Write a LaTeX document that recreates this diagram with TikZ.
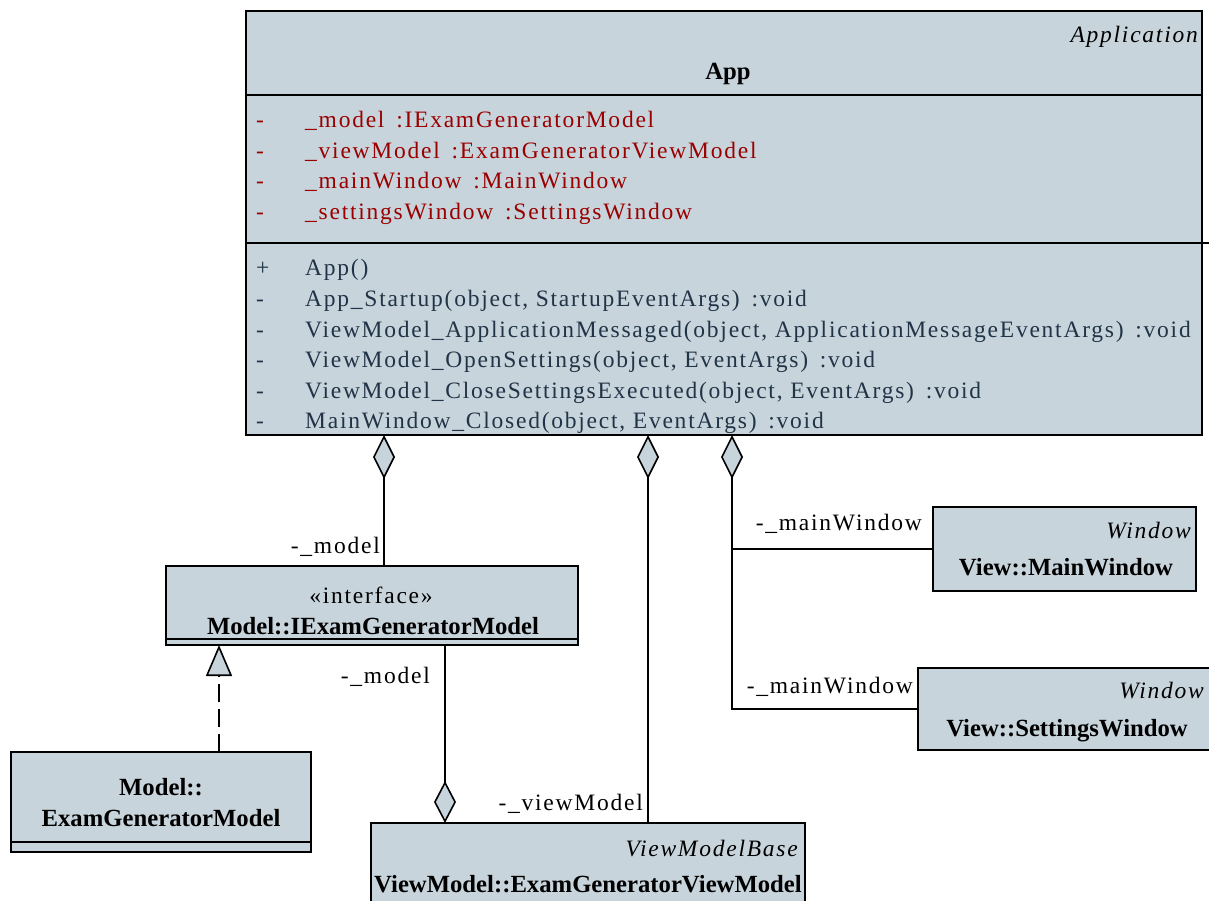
\documentclass[tikz,border=0pt]{standalone}
\usepackage{fontspec}
\setmainfont{Liberation Serif}
\newfontfamily\umlfont{Liberation Serif}[LetterSpace=7.5]
\usetikzlibrary{arrows.meta}
\definecolor{classfill}{RGB}{200,212,220}
\definecolor{attrred}{RGB}{153,0,0}
\definecolor{opblue}{RGB}{33,52,71}
\def\visib#1{\makebox[49pt][l]{#1}}
\tikzset{
	classbox/.style={draw=black, fill=classfill, line width=1.8pt, inner sep=0pt, outer sep=0pt, anchor=north west},
	member/.style={anchor=base west, inner sep=0pt, font=\umlfont\fontsize{23.5}{28}\selectfont},
	attr/.style={member, text=attrred},
	oper/.style={member, text=opblue},
	classname/.style={anchor=base, inner sep=0pt, font=\bfseries\fontsize{24.7}{28}\selectfont},
	basename/.style={anchor=base east, inner sep=0pt, font=\umlfont\itshape\fontsize{23.5}{28}\selectfont},
	stereo/.style={anchor=base, inner sep=0pt, font=\umlfont\fontsize{23.5}{28}\selectfont},
	role/.style={anchor=base east, inner sep=0pt, font=\umlfont\fontsize{23.5}{28}\selectfont},
	link/.style={line width=1.6pt},
	aggr/.style={link, {Diamond[fill=classfill, length=44pt, width=22pt, line width=1.6pt]}-},
	aggrend/.style={link, -{Diamond[fill=classfill, length=42pt, width=22pt, line width=1.6pt]}},
	realize/.style={link, dash pattern=on 18pt off 7pt, -{Triangle[fill=classfill, length=31pt, width=26pt, line width=1.6pt]}}
}

\begin{document}
\begin{tikzpicture}[x=1pt, y=-1pt]
		%%%%% START %%%%%
		\clip (0,0) rectangle (1209,901);
		
		% App
		\node[classbox, minimum width=956pt, minimum height=424pt] (app) at (246,11) {};
		\draw[line width=1.8pt] (246,95) -- (1202,95);
		\draw[line width=1.8pt] (246,243) -- (1209,243);
		\node[basename] (appbase) at (1198,43) {Application};
		\node[classname] (appname) at (728,80) {App};
		
		\node[attr] (a1) at (256,128) {\visib{-}\_model\enspace:IExamGeneratorModel};
		\node[attr] (a2) at (256,158.5) {\visib{-}\_viewModel\enspace:ExamGeneratorViewModel};
		\node[attr] (a3) at (256,189) {\visib{-}\_mainWindow\enspace:MainWindow};
		\node[attr] (a4) at (256,219.5) {\visib{-}\_settingsWindow\enspace:SettingsWindow};
		
		\node[oper] (m1) at (256,276) {\visib{+}App()};
		\node[oper] (m2) at (256,306.5) {\visib{-}App\_Startup(object, StartupEventArgs)\enspace:void};
		\node[oper] (m3) at (256,337) {\visib{-}ViewModel\_ApplicationMessaged(object, ApplicationMessageEventArgs)\enspace:void};
		\node[oper] (m4) at (256,367.5) {\visib{-}ViewModel\_OpenSettings(object, EventArgs)\enspace:void};
		\node[oper] (m5) at (256,398) {\visib{-}ViewModel\_CloseSettingsExecuted(object, EventArgs)\enspace:void};
		\node[oper] (m6) at (256,428.5) {\visib{-}MainWindow\_Closed(object, EventArgs)\enspace:void};
		
		% Model
		\node[classbox, minimum width=412pt, minimum height=79pt] (imodel) at (166,566) {};
		\draw[line width=1.8pt] (166,639) -- (578,639);
		\node[stereo] (istereo) at (371,603) {«interface»};
		\node[classname] (iname) at (373,634) {Model::IExamGeneratorModel};
		
		\node[classbox, minimum width=300pt, minimum height=100pt] (genmodel) at (11,752) {};
		\draw[line width=1.8pt] (11,842) -- (311,842);
		\node[classname] (gname1) at (161,795) {Model::};
		\node[classname] (gname2) at (161,826) {ExamGeneratorModel};
		
		% ViewModel
		\node[classbox, minimum width=434pt, minimum height=120pt] (viewmodel) at (371,823) {};
		\node[basename] (vbase) at (798,856) {ViewModelBase};
		\node[classname] (vname) at (588,892) {ViewModel::ExamGeneratorViewModel};
		
		% View
		\node[classbox, minimum width=263pt, minimum height=84pt] (mainwin) at (933,507) {};
		\node[basename] (mwbase) at (1191,538) {Window};
		\node[classname] (mwname) at (1066,575) {View::MainWindow};
		
		\node[classbox, minimum width=300pt, minimum height=82pt] (setwin) at (918,668) {};
		\node[basename] (swbase) at (1204,698) {Window};
		\node[classname] (swname) at (1067,736) {View::SettingsWindow};
		
		% connectors
		\coordinate (aggm) at (384,435);
		\coordinate (aggv) at (648,435);
		\coordinate (aggw) at (732,435);
		\coordinate (imb) at (445,645);
		\coordinate (gmt) at (219,752);
		
		\draw[aggr] (aggm) -- (aggm |- imodel.north);
		\draw[aggr] (aggv) -- (aggv |- viewmodel.north);
		\draw[aggr] (aggw) -- (aggw |- setwin.west) -- (setwin.west);
		\draw[link] (aggw |- mainwin.west) -- (mainwin.west);
		\draw[aggrend] (imb) -- (imb |- viewmodel.north);
		\draw[realize] (gmt) -- (gmt |- imodel.south);
		
		\node[role] (r1) at (380,553) {-\_model};
		\node[role] (r2) at (430,683) {-\_model};
		\node[role] (r3) at (643,810) {-\_viewModel};
		\node[role] (r4) at (922,530) {-\_mainWindow};
		\node[role] (r5) at (913,693) {-\_mainWindow};
		
		%%%%% END %%%%%
\end{tikzpicture}
\end{document}
